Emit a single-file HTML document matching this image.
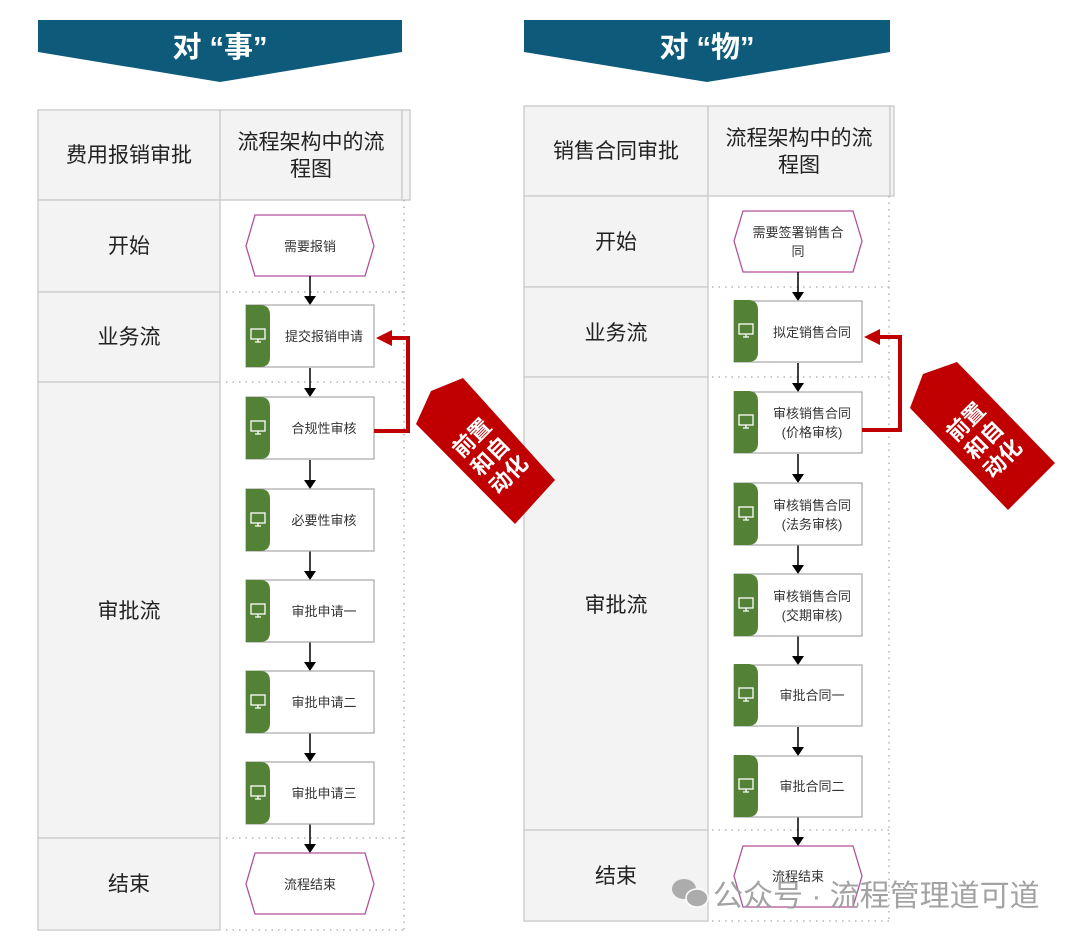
<!DOCTYPE html>
<html><head><meta charset="utf-8"><style>
html,body{margin:0;padding:0;background:#fff;}
svg{display:block;font-family:"Liberation Sans","Noto Sans CJK SC",sans-serif;}
.c1{fill:#f3f3f3;stroke:#cfcfcf;stroke-width:1.5}
.dot{stroke:#b5b5b5;stroke-width:1.5;stroke-dasharray:1.5 5;fill:none}
.box{fill:#fff;stroke:#a6a6a6;stroke-width:1.2}
.hex{fill:#fff;stroke:#b2509a;stroke-width:1.3}
.g{fill:#538135}
.t{font-size:13px;fill:#333;text-anchor:middle}
.h{font-size:21px;fill:#222;text-anchor:middle}
.ln{stroke:#000;stroke-width:1.5}
.ic{fill:none;stroke:#fff;stroke-width:1.3}
</style></head><body>
<svg width="1080" height="938" viewBox="0 0 1080 938">
<defs>
<g id="tab"><path d="M0,0 H14 Q24,0 24,10 V52 Q24,62 14,62 H0 Z" class="g"/><rect x="5" y="24" width="14" height="10" class="ic"/><path d="M9,37 H15 M12,34 V37" class="ic"/></g>
<g id="ar"><line x1="0" y1="0" x2="0" y2="21" class="ln"/><polygon points="-6,20 6,20 0,29" fill="#000"/></g>
</defs>

<!-- LEFT -->
<polygon points="38,20 402,20 402,52 220,82 38,52" fill="#0e5a7a"/>
<text x="220" y="57" font-size="29" font-weight="bold" fill="#fff" text-anchor="middle">对 “事”</text>
<rect x="38" y="110" width="182" height="90" class="c1"/>
<rect x="220" y="110" width="182" height="90" class="c1"/>
<rect x="402" y="110" width="8" height="90" class="c1"/>
<rect x="38" y="200" width="182" height="92" class="c1"/>
<rect x="38" y="292" width="182" height="90" class="c1"/>
<rect x="38" y="382" width="182" height="456" class="c1"/>
<rect x="38" y="838" width="182" height="92" class="c1"/>
<path d="M226,292 H408 M226,382 H408 M226,838 H408 M226,930 H408 M404,200 V930" class="dot"/>
<text x="129" y="162" class="h">费用报销审批</text>
<text x="311" y="149" class="h">流程架构中的流</text>
<text x="311" y="176" class="h">程图</text>
<text x="129" y="253" class="h">开始</text>
<text x="129" y="344" class="h">业务流</text>
<text x="129" y="618" class="h">审批流</text>
<text x="129" y="891" class="h">结束</text>

<polygon points="255,215 365,215 374,246 365,276 255,276 246,246" class="hex"/>
<text x="310" y="251" class="t">需要报销</text>
<use href="#ar" x="310" y="276"/><use href="#ar" x="310" y="368"/><use href="#ar" x="310" y="460"/><use href="#ar" x="310" y="551"/><use href="#ar" x="310" y="642"/><use href="#ar" x="310" y="733"/><use href="#ar" x="310" y="824"/>
<rect x="246" y="305" width="128" height="62" class="box"/><use href="#tab" x="246" y="305"/><text x="324" y="341" class="t">提交报销申请</text>
<rect x="246" y="397" width="128" height="62" class="box"/><use href="#tab" x="246" y="397"/><text x="324" y="433" class="t">合规性审核</text>
<rect x="246" y="489" width="128" height="62" class="box"/><use href="#tab" x="246" y="489"/><text x="324" y="525" class="t">必要性审核</text>
<rect x="246" y="580" width="128" height="62" class="box"/><use href="#tab" x="246" y="580"/><text x="324" y="616" class="t">审批申请一</text>
<rect x="246" y="671" width="128" height="62" class="box"/><use href="#tab" x="246" y="671"/><text x="324" y="707" class="t">审批申请二</text>
<rect x="246" y="762" width="128" height="62" class="box"/><use href="#tab" x="246" y="762"/><text x="324" y="798" class="t">审批申请三</text>
<polygon points="255,853 365,853 374,884 365,914 255,914 246,884" class="hex"/>
<text x="310" y="889" class="t">流程结束</text>

<!-- RIGHT -->
<polygon points="524,20 890,20 890,52 707,82 524,52" fill="#0e5a7a"/>
<text x="707" y="57" font-size="29" font-weight="bold" fill="#fff" text-anchor="middle">对 “物”</text>
<rect x="524" y="106" width="184" height="90" class="c1"/>
<rect x="708" y="106" width="182" height="90" class="c1"/>
<rect x="890" y="106" width="4" height="90" class="c1"/>
<rect x="524" y="196" width="184" height="91" class="c1"/>
<rect x="524" y="287" width="184" height="90" class="c1"/>
<rect x="524" y="377" width="184" height="453" class="c1"/>
<rect x="524" y="830" width="184" height="91" class="c1"/>
<path d="M712,287 H890 M712,377 H890 M712,830 H890 M712,921 H890 M889,196 V921" class="dot"/>
<text x="616" y="158" class="h">销售合同审批</text>
<text x="799" y="145" class="h">流程架构中的流</text>
<text x="799" y="172" class="h">程图</text>
<text x="616" y="249" class="h">开始</text>
<text x="616" y="340" class="h">业务流</text>
<text x="616" y="612" class="h">审批流</text>
<text x="616" y="883" class="h">结束</text>

<polygon points="743,211 853,211 862,241 853,272 743,272 734,241" class="hex"/>
<text x="798" y="237" class="t">需要签署销售合</text><text x="798" y="256" class="t">同</text>
<use href="#ar" x="798" y="272"/><use href="#ar" x="798" y="363"/><use href="#ar" x="798" y="454"/><use href="#ar" x="798" y="545"/><use href="#ar" x="798" y="636"/><use href="#ar" x="798" y="727"/><use href="#ar" x="798" y="817"/>
<rect x="734" y="301" width="128" height="61" class="box"/><use href="#tab" x="734" y="300"/><text x="812" y="337" class="t">拟定销售合同</text>
<rect x="734" y="392" width="128" height="61" class="box"/><use href="#tab" x="734" y="391"/><text x="812" y="418" class="t">审核销售合同</text><text x="812" y="437" class="t">(价格审核)</text>
<rect x="734" y="483" width="128" height="62" class="box"/><use href="#tab" x="734" y="483"/><text x="812" y="510" class="t">审核销售合同</text><text x="812" y="529" class="t">(法务审核)</text>
<rect x="734" y="574" width="128" height="62" class="box"/><use href="#tab" x="734" y="574"/><text x="812" y="601" class="t">审核销售合同</text><text x="812" y="620" class="t">(交期审核)</text>
<rect x="734" y="665" width="128" height="61" class="box"/><use href="#tab" x="734" y="664"/><text x="812" y="700" class="t">审批合同一</text>
<rect x="734" y="756" width="128" height="61" class="box"/><use href="#tab" x="734" y="755"/><text x="812" y="791" class="t">审批合同二</text>
<polygon points="743,846 853,846 862,876 853,907 743,907 734,876" class="hex"/>
<text x="798" y="881" class="t">流程结束</text>

<!-- red arrows and tags -->
<path d="M374,431 H408 V338 H388" fill="none" stroke="#c00000" stroke-width="4"/>
<polygon points="376,338 392,330 392,346" fill="#c00000"/>
<polygon points="416,424 431,391 463,378 555,480 515,524" fill="#c00000"/>
<g transform="translate(490,456) rotate(-45)" fill="#fff" font-size="22" font-weight="bold" text-anchor="middle">
<text x="0" y="-18">前置</text><text x="0" y="8">和自</text><text x="0" y="34">动化</text></g>

<path d="M862,430 H900 V337 H876" fill="none" stroke="#c00000" stroke-width="4"/>
<polygon points="864,337 880,329 880,345" fill="#c00000"/>
<polygon points="910,408 923,374 957,362 1055,463 1008,510" fill="#c00000"/>
<g transform="translate(984,440) rotate(-45)" fill="#fff" font-size="22" font-weight="bold" text-anchor="middle">
<text x="0" y="-18">前置</text><text x="0" y="8">和自</text><text x="0" y="34">动化</text></g>

<!-- watermark -->
<g fill="#a0a0a0" opacity="0.85">
<ellipse cx="684" cy="889" rx="12" ry="10"/><ellipse cx="697" cy="898" rx="11" ry="9" stroke="#fff" stroke-width="1.5"/>
</g>
<text x="713" y="906" font-size="30" fill="#9a9a9a" opacity="0.9">公众号 · 流程管理道可道</text>
</svg>
</body></html>
